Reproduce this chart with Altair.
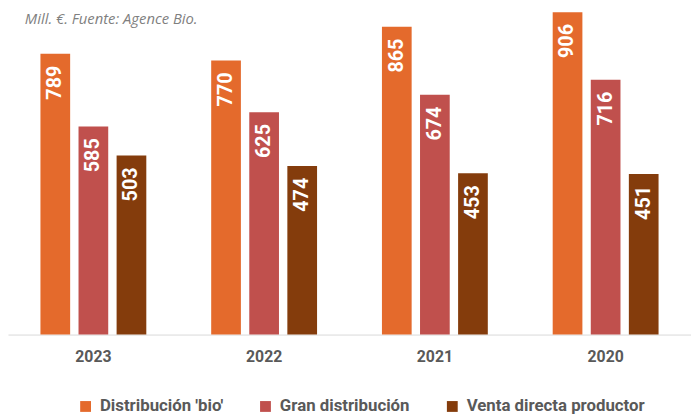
import altair as alt
import pandas as pd

years = ["2023", "2022", "2021", "2020"]
series = ["Distribución 'bio'", "Gran distribución", "Venta directa productor"]
bio = [789, 770, 865, 906]
gran = [585, 625, 674, 716]
venta = [503, 474, 453, 451]
colors = ["#E46A2C", "#C0504D", "#843C0C"]
title_text = "Mill. €. Fuente: Agence Bio."

rows = []
for i, y in enumerate(years):
    for s, vals in zip(series, [bio, gran, venta]):
        rows.append({"year": y, "serie": s, "value": vals[i]})
df = pd.DataFrame(rows)

FONT = "Roboto"

base = alt.Chart(df).encode(
    x=alt.X(
        "year:N",
        sort=years,
        scale=alt.Scale(paddingInner=0.38, paddingOuter=0.19),
        axis=alt.Axis(
            title=None, labelAngle=0, ticks=False, domainColor="#D9D9D9",
            labelFont=FONT, labelFontSize=16, labelFontWeight="bold",
            labelColor="#595959", labelPadding=14,
        ),
    ),
    xOffset=alt.XOffset("serie:N", sort=series,
                        scale=alt.Scale(paddingInner=0.22, paddingOuter=0)),
    y=alt.Y("value:Q", scale=alt.Scale(domain=[0, 911]), axis=None),
)

bars = base.mark_bar().encode(
    color=alt.Color(
        "serie:N", sort=series,
        scale=alt.Scale(domain=series, range=colors),
        legend=alt.Legend(
            title=None, orient="none", legendX=70, legendY=392,
            direction="horizontal", symbolType="square", symbolSize=120,
            symbolStrokeWidth=0, labelFont=FONT, labelFontSize=17,
            labelFontWeight="bold", labelColor="#595959", columnPadding=34,
            labelOffset=6, labelLimit=400,
        ),
    )
)

labels = base.mark_text(
    angle=270, align="right", baseline="middle", dx=-12, color="white",
    font=FONT, fontSize=20, fontWeight="bold",
).encode(text="value:Q")

title = alt.Chart(pd.DataFrame({"t": [title_text]})).mark_text(
    align="left", baseline="top", fontSize=15, color="#7F7F7F",
    fontStyle="italic", font="Open Sans",
).encode(x=alt.value(17), y=alt.value(2), text="t:N")

chart = (
    alt.layer(bars, labels, title)
    .properties(width=691, height=328, padding=0)
    .configure_view(stroke=None)
)

chart.save("out.html", embed_options={"renderer": "svg", "actions": False})
